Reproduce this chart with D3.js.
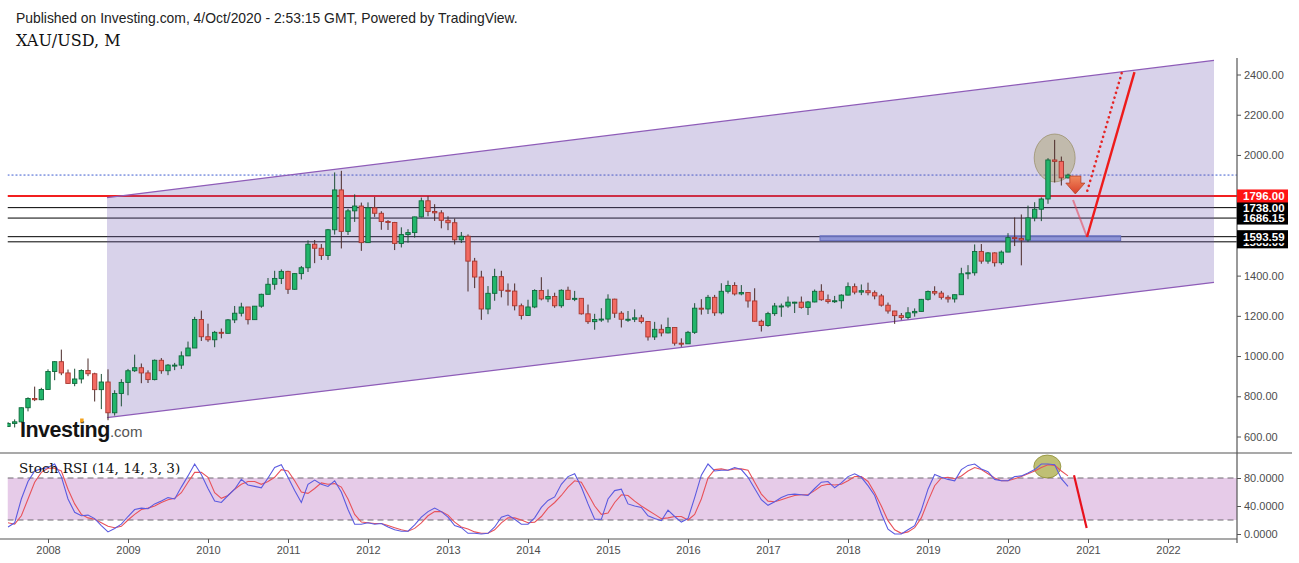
<!DOCTYPE html>
<html><head><meta charset="utf-8">
<script src="https://cdn.jsdelivr.net/npm/d3@7/dist/d3.min.js"></script>
<style>body{margin:0;background:#fff;overflow:hidden}svg{display:block}</style>
</head><body>
<svg id="c" width="1299" height="563"></svg>
<script>
// ---------- DATA (monthly XAU/USD, first bar = Jul 2007) ----------
const firstBar = [2007, 6]; // year, month (0-based)
const opens = [
 650,665,673,743,789,783,
 834,923,972,916,864,886,928,912,833,871,718,814,
 869,927,942,916,883,979,927,955,955,1001,1040,1182,
 1096,1081,1118,1113,1180,1213,1244,1181,1248,1307,1357,1386,
 1421,1332,1410,1439,1556,1536,1500,1628,1826,1620,1722,1746,
 1564,1737,1710,1669,1664,1560,1604,1614,1692,1772,1719,1712,
 1675,1663,1578,1596,1472,1393,1234,1312,1395,1327,1323,1250,
 1202,1244,1326,1284,1296,1250,1327,1282,1287,1210,1171,1182,
 1184,1283,1213,1183,1183,1190,1172,1095,1133,1115,1142,1064,
 1061,1118,1238,1234,1292,1215,1322,1351,1309,1316,1274,1173,
 1152,1211,1249,1249,1268,1268,1242,1269,1322,1280,1271,1275,
 1303,1345,1318,1325,1315,1299,1253,1224,1201,1192,1215,1222,
 1282,1321,1313,1292,1284,1305,1409,1414,1520,1472,1513,1464,
 1517,1589,1585,1577,1687,1730,1781,1975,1968,1886];
const highs = [
 672,685,744,795,848,842,
 934,975,1032,933,937,934,988,917,911,934,830,885,
 936,1007,963,929,983,990,960,966,1023,1072,1195,1226,
 1161,1125,1137,1184,1249,1265,1244,1249,1310,1388,1424,1431,
 1424,1412,1448,1575,1577,1557,1632,1913,1921,1732,1804,1763,
 1764,1791,1720,1676,1667,1640,1631,1693,1788,1795,1755,1725,
 1695,1684,1617,1605,1488,1424,1348,1434,1424,1361,1361,1261,
 1280,1332,1392,1331,1315,1332,1345,1324,1287,1256,1210,1238,
 1307,1285,1223,1224,1232,1205,1172,1170,1157,1191,1142,1088,
 1125,1263,1283,1304,1304,1362,1375,1367,1353,1317,1337,1181,
 1220,1264,1261,1296,1270,1296,1274,1331,1357,1306,1299,1307,
 1366,1361,1356,1365,1326,1309,1266,1225,1214,1243,1237,1284,
 1326,1347,1324,1302,1306,1439,1452,1555,1557,1517,1516,1525,
 1611,1689,1704,1748,1765,1789,1984,2075,1992,1907];
const lows = [
 648,645,670,725,776,780,
 834,880,905,862,850,864,900,774,736,681,704,750,
 805,921,865,866,879,912,905,930,936,1000,1043,1075,
 1071,1044,1088,1113,1164,1197,1157,1181,1240,1307,1330,1358,
 1309,1330,1381,1418,1462,1478,1478,1604,1535,1602,1667,1523,
 1562,1692,1628,1627,1527,1540,1564,1589,1689,1695,1672,1635,
 1626,1555,1562,1321,1338,1180,1208,1275,1292,1251,1227,1182,
 1202,1238,1277,1268,1240,1240,1280,1273,1206,1160,1131,1170,
 1167,1190,1142,1170,1169,1162,1077,1080,1098,1113,1052,1046,
 1062,1110,1206,1209,1200,1207,1311,1301,1302,1241,1171,1122,
 1146,1200,1195,1240,1214,1236,1204,1267,1275,1261,1264,1236,
 1302,1307,1303,1302,1282,1246,1211,1160,1180,1183,1196,1221,
 1276,1302,1281,1266,1266,1305,1382,1400,1459,1459,1445,1454,
 1517,1547,1451,1567,1670,1671,1757,1863,1848,1883];
const closes = [
 665,673,743,789,783,834,
 923,972,916,864,886,928,912,833,871,718,814,869,
 927,942,916,883,979,927,955,955,1001,1040,1182,1096,
 1081,1118,1113,1180,1213,1244,1181,1248,1307,1357,1386,1421,
 1332,1410,1439,1556,1536,1500,1628,1826,1620,1722,1746,1564,
 1737,1710,1669,1664,1560,1604,1614,1692,1772,1719,1712,1675,
 1663,1578,1596,1472,1393,1234,1312,1395,1327,1323,1250,1202,
 1244,1326,1284,1296,1250,1327,1282,1287,1210,1171,1182,1184,
 1283,1213,1183,1183,1190,1172,1095,1133,1115,1142,1064,1061,
 1118,1238,1234,1292,1215,1322,1351,1309,1316,1274,1173,1152,
 1211,1249,1249,1268,1268,1242,1269,1322,1280,1271,1275,1303,
 1345,1318,1325,1315,1299,1253,1224,1201,1192,1215,1222,1282,
 1321,1313,1292,1284,1305,1409,1414,1520,1472,1513,1464,1517,
 1589,1585,1577,1687,1730,1781,1975,1968,1886,1900];
// Stoch RSI %K (blue) and %D (red)
const stochK = [
 10,16,50,75,90,93,
 95,100,82,50,31,26,27,22,12,3,8,14,
 25,35,37,36,43,47,52,50,67,83,100,85,
 65,47,45,55,64,78,70,68,66,80,95,99,
 81,62,45,71,77,71,68,76,60,35,14,14,
 16,14,15,10,6,4,4,13,24,32,37,32,
 24,12,9,1,1,0,1,10,24,27,21,14,
 14,23,38,48,53,71,82,86,67,43,21,21,
 50,62,64,43,40,38,26,22,19,34,25,17,
 22,52,84,100,90,91,91,95,92,81,65,49,
 41,46,52,56,57,56,55,65,74,75,66,73,
 82,86,81,69,55,29,7,0,0,6,12,34,
 64,85,81,78,76,92,98,100,93,89,78,76,
 76,82,83,87,92,100,100,99,79,68];
const stochD = [
 16,14,26,50,74,88,
 94,94,90,64,43,28,23,21,16,11,9,11,
 20,28,35,37,40,45,49,51,59,74,88,88,
 81,59,51,55,64,71,75,75,71,75,81,92,
 90,76,60,58,65,73,71,72,67,50,28,17,
 16,15,15,12,9,6,4,8,16,26,32,32,
 27,17,10,7,3,1,1,6,16,23,23,20,
 16,17,25,37,45,55,67,76,74,57,40,28,
 30,45,56,55,47,40,34,28,22,23,25,25,
 20,28,50,80,92,93,91,93,93,91,74,57,
 47,46,49,52,55,56,56,62,69,71,70,71,
 76,82,82,75,59,40,19,6,1,3,9,23,
 47,69,80,81,79,83,90,95,92,86,80,76,
 76,79,82,86,90,95,99,98,90,83];
const priceTicks = [600,800,1000,1200,1400,1800,2000,2200,2400];
const rsiTicks = [0,40,80];
const yearTicks = [2008,2009,2010,2011,2012,2013,2014,2015,2016,2017,2018,2019,2020,2021,2022];
// horizontal levels (price, colour)
const levels = [
 {p:1568.00, c:"#000"}, {p:1593.59, c:"#000"},
 {p:1686.15, c:"#000"}, {p:1738.00, c:"#000"}, {p:1796.00, c:"#f21f1f"}];
const lastPrice = 1900;
// drawings, in (month index from Jan 2008, price) coordinates
const channelTop = [[8.85,1788],[174.9,2470]];
const channelBottom = [[8.85,694],[174.9,1366]];
const zoneBox = {i0:115.8, i1:160.9, p0:1574, p1:1598};
const priceCircle = {i:151.0, p:1985, ri:3.07, rp:119};
const arrow = {i:154.1, top:1895, neck:1860, tip:1806, shaft:0.83, head:1.43};
const fadedPath = [[153.75,1776],[155.85,1592]];
const solidPath = [[155.85,1592],[162.97,2412]];
const dottedPath = [[155.9,1822],[161.1,2412]];
const rsiCircle = {i:149.9, v:96.4, ri:2.03, rv:16.4};
const rsiPath = [[153.9,84],[155.8,8.5]];

// ---------- SCALES ----------
const svg = d3.select("#c");
const L = 7.5, R = 1237, PT = 58, PB = 453, RB = 539;
const x = d3.scaleLinear().domain([0,12]).range([48,128]);
const y = d3.scaleLinear().domain([600,2400]).range([436.5,74.5]);
const yr = d3.scaleLinear().domain([0,100]).range([534,464]);
const bars = opens.map((o,k)=>({i:(firstBar[0]-2008)*12+firstBar[1]+k,o,h:highs[k],l:lows[k],c:closes[k]}));
const FONT = "'Liberation Sans', Arial, sans-serif";

const defs = svg.append("defs");
defs.append("clipPath").attr("id","cp").append("rect").attr("x",L).attr("y",PT).attr("width",R-L).attr("height",PB-PT);
defs.append("clipPath").attr("id","cr").append("rect").attr("x",L).attr("y",PB).attr("width",R-L).attr("height",RB-PB);

// ---------- HEADER ----------
svg.append("text").attr("x",16).attr("y",22.5).attr("font-family",FONT).attr("font-size",13.9).attr("fill","#222")
 .text("Published on Investing.com, 4/Oct/2020 - 2:53:15 GMT, Powered by TradingView.");
svg.append("text").attr("x",16).attr("y",46).attr("font-family","'DejaVu Serif', serif").attr("font-size",16).attr("fill","#111")
 .text("XAU/USD, M");

// ---------- PRICE PANEL ----------
const gp = svg.append("g").attr("clip-path","url(#cp)");
levels.forEach(d=>{
  gp.append("line").attr("x1",L).attr("x2",R).attr("y1",y(d.p)).attr("y2",y(d.p))
   .attr("stroke",d.c).attr("stroke-width",d.c==="#000"?1:2);
});
gp.append("line").attr("x1",L).attr("x2",R).attr("y1",y(lastPrice)).attr("y2",y(lastPrice))
  .attr("stroke","#3d5bd0").attr("stroke-width",1).attr("stroke-dasharray","2,2");
// channel
const chPts = [channelTop[0],channelTop[1],channelBottom[1],channelBottom[0]].map(d=>[x(d[0]),y(d[1])]);
gp.append("path").attr("d","M"+chPts.join("L")+"Z").attr("fill","rgba(110,88,178,0.27)").attr("stroke","none");
[channelTop,channelBottom].forEach(s=>{
  gp.append("line").attr("x1",x(s[0][0])).attr("y1",y(s[0][1])).attr("x2",x(s[1][0])).attr("y2",y(s[1][1]))
    .attr("stroke","#8e5cb8").attr("stroke-width",1.2);
});
// zone rectangle
gp.append("rect").attr("x",x(zoneBox.i0)).attr("y",y(zoneBox.p1)).attr("width",x(zoneBox.i1)-x(zoneBox.i0))
  .attr("height",y(zoneBox.p0)-y(zoneBox.p1)).attr("fill","rgba(120,130,210,0.75)").attr("stroke","#6870c0").attr("stroke-width",1);
// circle
gp.append("ellipse").attr("cx",x(priceCircle.i)).attr("cy",y(priceCircle.p))
  .attr("rx",x(priceCircle.ri)-x(0)).attr("ry",y(0)-y(priceCircle.rp))
  .attr("fill","rgba(175,165,120,0.55)").attr("stroke","rgba(150,140,100,0.7)").attr("stroke-width",1);
// candles
const step = x(1)-x(0), bw = step*0.66;
const cg = gp.append("g");
bars.forEach(b=>{
  const up = b.c>=b.o;
  const cx = x(b.i);
  cg.append("line").attr("x1",cx).attr("x2",cx).attr("y1",y(b.h)).attr("y2",y(b.l))
    .attr("stroke", up?"#1d4f35":"#4a2a28").attr("stroke-width",1);
  const top = y(Math.max(b.o,b.c)), bot = y(Math.min(b.o,b.c));
  cg.append("rect").attr("x",cx-bw/2).attr("y",top).attr("width",bw).attr("height",Math.max(1,bot-top))
    .attr("fill", up?"#22b56b":"#f26a62").attr("stroke", up?"#0e6a3b":"#a8372f").attr("stroke-width",0.9);
});
// arrow
const ax = x(arrow.i), sw = x(arrow.shaft)-x(0), hw = x(arrow.head)-x(0);
const arrPts = [[ax-sw,y(arrow.top)],[ax+sw,y(arrow.top)],[ax+sw,y(arrow.neck)],[ax+hw,y(arrow.neck)],
  [ax,y(arrow.tip)],[ax-hw,y(arrow.neck)],[ax-sw,y(arrow.neck)]];
const grad = defs.append("linearGradient").attr("id","ag").attr("x1",0).attr("x2",0).attr("y1",0).attr("y2",1);
grad.append("stop").attr("offset","0").attr("stop-color","#f08a5e");
grad.append("stop").attr("offset","1").attr("stop-color","#d9412a");
gp.append("path").attr("d","M"+arrPts.join("L")+"Z").attr("fill","url(#ag)").attr("stroke","#b8402a").attr("stroke-width",0.8);
const ln = d3.line().x(d=>x(d[0])).y(d=>y(d[1]));
gp.append("path").attr("d",ln(fadedPath)).attr("stroke","rgba(230,60,80,0.55)").attr("stroke-width",2).attr("fill","none");
gp.append("path").attr("d",ln(solidPath)).attr("stroke","#ee1b1b").attr("stroke-width",2.4).attr("fill","none");
gp.append("path").attr("d",ln(dottedPath)).attr("stroke","#e52424").attr("stroke-width",2.6).attr("fill","none")
  .attr("stroke-dasharray","0.1,5").attr("stroke-linecap","round");

// logo
const logo = svg.append("text").attr("x",20).attr("y",437).attr("font-family",FONT).attr("font-size",21.5)
  .attr("font-weight","bold").attr("fill","#141414").attr("letter-spacing","-0.5");
logo.append("tspan").text("Investing");
logo.append("tspan").attr("font-size",15).attr("font-weight","normal").attr("fill","#555").attr("letter-spacing","0").text(".com");
try{
  const ext = logo.node().getExtentOfChar(6);
  svg.append("rect").attr("x",ext.x+1).attr("y",418.5).attr("width",Math.max(3,ext.width-2)).attr("height",4).attr("fill","#f4a21c");
}catch(e){}

// ---------- RSI PANEL ----------
const gr = svg.append("g").attr("clip-path","url(#cr)");
gr.append("rect").attr("x",L).attr("y",yr(80)).attr("width",R-L).attr("height",yr(20)-yr(80)).attr("fill","#e6cbe8");
[80,20].forEach(v=>gr.append("line").attr("x1",L).attr("x2",R).attr("y1",yr(v)).attr("y2",yr(v))
  .attr("stroke","#6f6a70").attr("stroke-width",1.1).attr("stroke-dasharray","6,4"));
gr.append("ellipse").attr("cx",x(rsiCircle.i)).attr("cy",yr(rsiCircle.v)).attr("rx",x(rsiCircle.ri)-x(0))
  .attr("ry",yr(0)-yr(rsiCircle.rv)).attr("fill","rgba(170,170,70,0.75)").attr("stroke","rgba(140,140,50,0.8)");
const lk = d3.line().x((d,k)=>x(bars[k].i)).y(d=>yr(d));
gr.append("path").attr("d",lk(stochD)).attr("stroke","#e8525a").attr("stroke-width",1.1).attr("fill","none");
gr.append("path").attr("d",lk(stochK)).attr("stroke","#5b5be0").attr("stroke-width",1.1).attr("fill","none");
const lr = d3.line().x(d=>x(d[0])).y(d=>yr(d[1]));
gr.append("path").attr("d",lr(rsiPath)).attr("stroke","#e8101c").attr("stroke-width",2.2).attr("fill","none");
svg.append("text").attr("x",19).attr("y",473).attr("font-family","'DejaVu Serif', serif").attr("font-size",13.6).attr("fill","#111")
  .text("Stoch RSI (14, 14, 3, 3)");

// ---------- FRAMES & AXES ----------
svg.append("line").attr("x1",0).attr("x2",1292).attr("y1",PB).attr("y2",PB).attr("stroke","#555").attr("stroke-width",1.2);
svg.append("line").attr("x1",0).attr("x2",R).attr("y1",RB).attr("y2",RB).attr("stroke","#555").attr("stroke-width",1.2);
svg.append("line").attr("x1",R).attr("x2",R).attr("y1",PT).attr("y2",RB+4).attr("stroke","#555").attr("stroke-width",1.2);

const styleAxis = g=>{ g.select(".domain").remove(); g.selectAll("line").attr("stroke","#555");
  g.selectAll("text").attr("fill","#4d4d4d").attr("font-family",FONT).attr("font-size",11); };
svg.append("g").attr("transform",`translate(${R},0)`)
  .call(d3.axisRight(y).tickValues(priceTicks).tickSize(4).tickPadding(3).tickFormat(d3.format(".2f"))).call(styleAxis);
svg.append("g").attr("transform",`translate(${R},0)`)
  .call(d3.axisRight(yr).tickValues(rsiTicks).tickSize(4).tickPadding(3).tickFormat(d3.format(".4f"))).call(styleAxis);
svg.append("g").attr("transform",`translate(0,${RB})`)
  .call(d3.axisBottom(x).tickValues(yearTicks.map(yy=>(yy-2008)*12)).tickSize(4).tickPadding(3)
  .tickFormat(v=>String(2008+v/12))).call(styleAxis);

// level labels (stacked like the reference; later ones drawn on top)
levels.forEach(d=>{
  const cy = y(d.p);
  const g = svg.append("g");
  g.append("rect").attr("x",R).attr("y",cy-6.5).attr("width",51).attr("height",13).attr("fill",d.c==="#000"?"#000":"#ff1414");
  g.append("text").attr("x",R+6).attr("y",cy+4).attr("font-family",FONT).attr("font-size",11.5).attr("font-weight","bold")
   .attr("fill","#fff").text(d3.format(".2f")(d.p));
});
</script>
</body></html>
